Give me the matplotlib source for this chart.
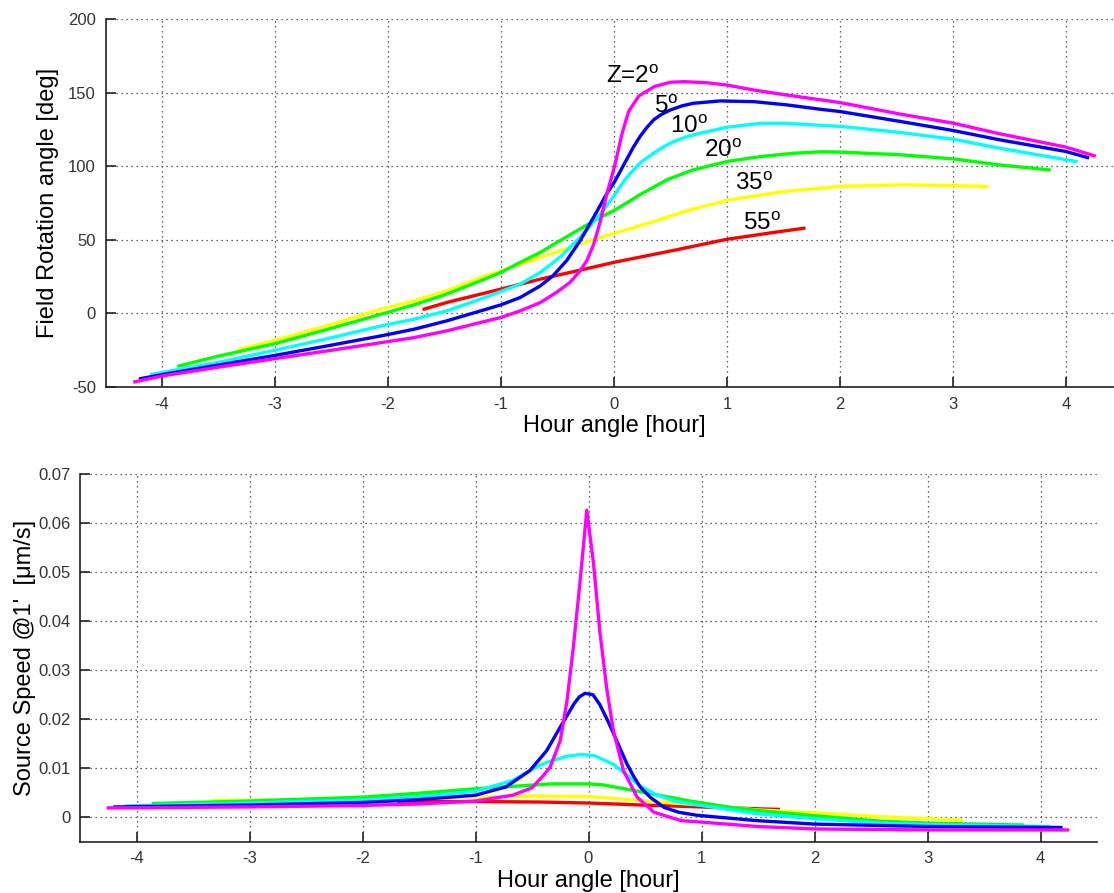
import matplotlib
matplotlib.use("Agg")
import matplotlib.pyplot as plt

plt.rcParams['font.family'] = ['Liberation Sans', 'DejaVu Sans']
plt.rcParams['mathtext.fontset'] = 'custom'
plt.rcParams['mathtext.rm'] = 'Liberation Sans'
plt.rcParams['mathtext.it'] = 'Liberation Sans:italic'
plt.rcParams['axes.unicode_minus'] = False

# zenith distances and line colours (MATLAB style)
zenith = [2, 5, 10, 20, 35, 55]
colors = ['#ff00ff', '#0000ff', '#00ffff', '#00ff00', '#ffff00', '#ff0000']

# ---- field rotation angle [deg] vs hour angle ----
rot_h = {
    2: [-4.24, -4.0, -3.5, -3.0, -2.5, -2.06, -1.77, -1.48, -1.18, -1.0, -0.83, -0.65, -0.51,
        -0.39, -0.30, -0.24, -0.18, -0.12, -0.065, -0.006, 0.02, 0.07, 0.13, 0.22, 0.36, 0.50,
        0.62, 0.82, 1.0, 1.24, 1.53, 2.0, 2.53, 3.0, 3.41, 4.0, 4.25],
    5: [-4.19, -4.0, -3.5, -3.0, -2.5, -2.06, -1.77, -1.48, -1.18, -1.0, -0.83, -0.65, -0.54,
        -0.42, -0.30, -0.18, -0.065, 0.0, 0.05, 0.11, 0.17, 0.23, 0.29, 0.35, 0.42, 0.50, 0.60,
        0.70, 0.94, 1.24, 1.53, 1.83, 2.0, 2.53, 3.0, 3.41, 4.0, 4.19],
    10: [-4.09, -3.5, -3.0, -2.5, -2.06, -1.77, -1.48, -1.18, -1.0, -0.83, -0.65, -0.48, -0.30,
         -0.12, 0.0, 0.07, 0.14, 0.24, 0.35, 0.44, 0.53, 0.64, 0.76, 1.0, 1.30, 1.53, 1.83, 2.0,
         2.53, 3.0, 3.41, 4.09],
    20: [-3.85, -3.5, -3.0, -2.5, -2.06, -1.77, -1.48, -1.18, -1.0, -0.83, -0.65, -0.48, -0.30,
         -0.12, 0.0, 0.23, 0.47, 0.70, 1.0, 1.30, 1.59, 1.83, 2.0, 2.53, 3.0, 3.41, 3.85],
    35: [-3.31, -3.0, -2.5, -2.06, -1.77, -1.48, -1.18, -1.0, -0.83, -0.65, -0.48, -0.30, -0.12,
         0.0, 0.35, 0.65, 1.0, 1.5, 2.0, 2.53, 3.0, 3.30],
    55: [-1.68, -1.48, -1.18, -1.0, -0.65, -0.30, 0.0, 0.5, 1.0, 1.4, 1.68],
}
rot_deg = {
    2: [-46.5, -42.5, -36.5, -30.7, -25.0, -19.8, -16.4, -11.8, -6.1, -2.7, 1.8, 7.5, 14.3,
        21.1, 29.0, 36.0, 47.0, 63.0, 81.0, 97.0, 105.0, 122.0, 137.5, 148.0, 154.5, 157.3,
        157.7, 157.0, 155.4, 152.0, 148.6, 143.5, 135.7, 129.5, 122.3, 113.2, 107.3],
    5: [-44.3, -41.6, -35.0, -28.5, -21.5, -15.2, -10.7, -5.0, 1.8, 5.9, 10.9, 18.9, 25.7,
        35.9, 49.5, 65.5, 81.4, 89.0, 96.0, 104.5, 113.0, 120.4, 126.5, 131.7, 135.5, 138.5,
        141.2, 143.0, 144.6, 144.1, 141.9, 138.9, 137.4, 130.7, 124.5, 118.2, 110.2, 106.1],
    10: [-41.4, -33.2, -25.0, -16.5, -8.4, -3.9, 1.8, 9.8, 15.0, 20.0, 28.0, 38.2, 51.8,
         67.7, 80.0, 88.0, 95.0, 103.0, 109.0, 113.5, 117.0, 120.2, 122.6, 126.7, 129.4, 129.4,
         128.0, 127.3, 123.2, 118.6, 112.5, 103.4],
    20: [-35.7, -29.0, -20.5, -10.0, -0.5, 5.9, 13.2, 22.3, 28.0, 34.8, 41.6, 49.5, 57.5,
         65.5, 70.0, 80.8, 91.0, 97.7, 103.4, 106.8, 109.0, 110.0, 109.8, 108.0, 105.2, 101.1,
         97.7],
    35: [-24.3, -18.2, -7.5, 3.0, 8.6, 15.5, 24.5, 29.0, 33.6, 38.2, 42.7, 47.3, 51.8, 54.5,
         62.5, 70.0, 77.0, 83.0, 86.5, 87.5, 87.0, 86.4],
    55: [3.0, 7.5, 13.2, 16.6, 23.4, 29.5, 34.8, 42.5, 50.5, 55.0, 58.0],
}

# ---- source speed at 1' [um/s] vs hour angle ----
spd_h = {
    2: [-4.25, -3.0, -2.0, -1.5, -1.0, -0.67, -0.5, -0.4, -0.34, -0.25, -0.19, -0.134, -0.074,
        -0.015, 0.045, 0.10, 0.16, 0.22, 0.31, 0.43, 0.58, 0.82, 1.0, 1.5, 2.0, 3.0, 4.24],
    5: [-4.19, -3.0, -2.0, -1.5, -1.0, -0.73, -0.52, -0.45, -0.37, -0.25, -0.13, -0.08, -0.03,
        0.04, 0.10, 0.16, 0.22, 0.28, 0.34, 0.40, 0.46, 0.55, 0.67, 0.80, 0.96, 1.49, 2.0, 3.0,
        4.18],
    10: [-4.09, -3.0, -2.0, -1.5, -1.0, -0.67, -0.5, -0.37, -0.2, -0.07, 0.05, 0.22, 0.34,
         0.46, 0.6, 0.76, 1.0, 1.49, 2.0, 2.58, 3.0, 4.07],
    20: [-3.85, -3.0, -2.0, -1.5, -1.0, -0.67, -0.34, 0.0, 0.13, 0.46, 0.9, 1.26, 1.49, 2.0,
         2.58, 3.0, 3.84],
    35: [-3.31, -2.5, -2.0, -1.5, -1.0, -0.5, 0.0, 0.46, 1.0, 1.49, 2.0, 2.58, 3.0, 3.3],
    55: [-1.68, -1.0, -0.43, 0.0, 0.46, 1.0, 1.52, 1.68],
}
spd_val = {
    2: [0.0019, 0.0021, 0.0024, 0.0027, 0.0033, 0.0045, 0.0060, 0.0085, 0.0102, 0.0156,
        0.0238, 0.0347, 0.0483, 0.0627, 0.0517, 0.0380, 0.0265, 0.0177, 0.0095, 0.0041,
        0.0010, -0.0007, -0.0010, -0.0019, -0.0024, -0.0026, -0.0026],
    5: [0.0021, 0.0025, 0.0030, 0.0036, 0.0045, 0.0062, 0.0095, 0.0114, 0.0136, 0.0184,
        0.0231, 0.0246, 0.0253, 0.0250, 0.0230, 0.0202, 0.0172, 0.0140, 0.0109, 0.0083,
        0.0061, 0.0040, 0.0020, 0.0010, 0.0004, -0.0007, -0.0014, -0.0019, -0.0021],
    10: [0.0023, 0.0029, 0.0035, 0.0042, 0.0053, 0.0075, 0.0098, 0.0112, 0.0124, 0.0128,
         0.0126, 0.0108, 0.0086, 0.0063, 0.0046, 0.0033, 0.0024, 0.0007, -0.0003, -0.0012,
         -0.0015, -0.0019],
    20: [0.0028, 0.0033, 0.0041, 0.0049, 0.0058, 0.0063, 0.0068, 0.0068, 0.0066, 0.0052,
         0.0033, 0.0020, 0.0014, 0.0003, -0.0008, -0.0012, -0.0016],
    35: [0.0034, 0.0036, 0.0037, 0.0039, 0.0041, 0.0043, 0.0042, 0.0034, 0.0025, 0.0015,
         0.0009, 0.0001, -0.0003, -0.0006],
    55: [0.0032, 0.0032, 0.0031, 0.0029, 0.0025, 0.0021, 0.0017, 0.0016],
}

# curve labels: (text, hour angle, degrees) for the top panel
labels = [('Z=2', -0.07, 156.6), ('5', 0.35, 136.3), ('10', 0.50, 123.1),
          ('20', 0.80, 106.8), ('35', 1.07, 83.7), ('55', 1.14, 56.8)]

W, H = 1114, 893
fig = plt.figure(figsize=(W / 100, H / 100), dpi=100)
ax1 = fig.add_axes([105.5 / W, 1 - 387 / H, 1017 / W, 367.5 / H])
ax2 = fig.add_axes([80 / W, 1 - 841.7 / H, 1017 / W, 367.3 / H])

# plot from the widest zenith distance first so Z=2 sits on top
for k, z in enumerate(zenith[::-1]):
    c = colors[::-1][k]
    ax1.plot(rot_h[z], rot_deg[z], color=c, lw=2.4, solid_joinstyle='round', zorder=3 + k)
    ax2.plot(spd_h[z], spd_val[z], color=c, lw=2.4, solid_joinstyle='round', zorder=3 + k)

for txt, hx, hy in labels:
    ax1.text(hx, hy, txt + r'$^\mathrm{o}$', fontsize=17.5, ha='left', va='baseline', zorder=10)

ax1.set_xlim(-4.5, 4.5)
ax1.set_ylim(-50, 200)
ax1.set_yticks([-50, 0, 50, 100, 150, 200])
ax2.set_xlim(-4.5, 4.5)
ax2.set_ylim(-0.005, 0.07)
ax2.set_yticks([0, 0.01, 0.02, 0.03, 0.04, 0.05, 0.06, 0.07])
ax2.set_yticklabels(['0', '0.01', '0.02', '0.03', '0.04', '0.05', '0.06', '0.07'])

for ax in (ax1, ax2):
    ax.set_xticks([-4, -3, -2, -1, 0, 1, 2, 3, 4])
    ax.grid(True, color='#333333', linestyle=(0, (1, 3)), linewidth=0.9)
    ax.set_axisbelow(True)
    for s in ('top', 'right'):
        ax.spines[s].set_visible(False)
    for s in ('left', 'bottom'):
        ax.spines[s].set_color('#222222')
        ax.spines[s].set_linewidth(1.2)
    ax.tick_params(direction='in', length=7, width=1.2, color='#222222',
                   labelsize=12, labelcolor='#333333', pad=7)
    ax.set_xlabel('Hour angle [hour]', fontsize=17)

ax1.set_ylabel('Field Rotation angle [deg]', fontsize=17)
ax2.set_ylabel("Source Speed @1'  [\u03bcm/s]", fontsize=17)

ax1.xaxis.set_label_coords(0.5, -0.075)
ax2.xaxis.set_label_coords(0.5, -0.077)
ax1.yaxis.set_label_coords(-0.046, 0.5)
ax2.yaxis.set_label_coords(-0.043, 0.5)

fig.savefig('out.png', dpi=100)
